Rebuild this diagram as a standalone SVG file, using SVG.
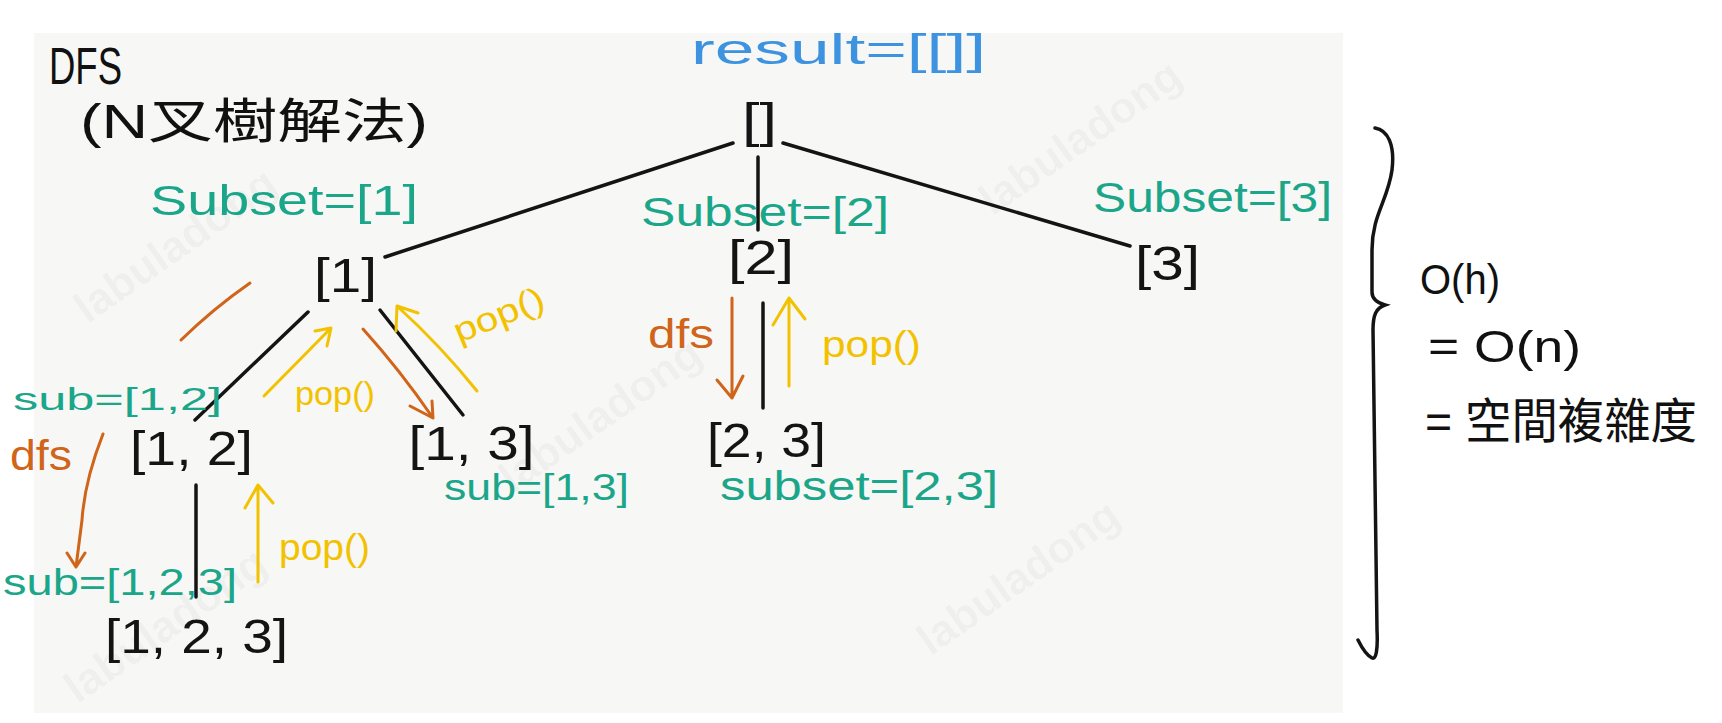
<svg xmlns="http://www.w3.org/2000/svg" width="1722" height="723" viewBox="0 0 1722 723">
<defs>
<style>
.node{font-family:"Liberation Sans",Arial,sans-serif;font-size:49px;fill:#141414;text-anchor:middle}
.edge{stroke:#141414;stroke-width:3.5;fill:none;stroke-linecap:round}
.hand{font-family:"Liberation Sans","Noto Sans CJK TC",sans-serif;}
.green{fill:#1ba68a}
.blue{fill:#3d93e0}
.orange{fill:#d0641a}
.yellow{fill:#f2c200}
.black{fill:#111}
.ostroke{stroke:#d0641a;stroke-width:3;fill:none;stroke-linecap:round;stroke-linejoin:round}
.ystroke{stroke:#f2c200;stroke-width:3;fill:none;stroke-linecap:round;stroke-linejoin:round}
.wm{font-family:"Liberation Sans",Arial,sans-serif;font-weight:bold;font-size:44px;fill:#000;fill-opacity:0.04;text-anchor:middle}
</style>
</defs>
<rect x="0" y="0" width="1722" height="723" fill="#ffffff"/>
<rect x="34" y="33" width="1309" height="680" fill="#f7f7f5"/>
<g id="watermarks">
<text class="wm" x="175" y="260" transform="rotate(-35 175 245)">labuladong</text>
<text class="wm" x="1080" y="152" transform="rotate(-35 1080 137)">labuladong</text>
<text class="wm" x="600" y="430" transform="rotate(-35 600 415)">labuladong</text>
<text class="wm" x="1018" y="592" transform="rotate(-35 1018 577)">labuladong</text>
<text class="wm" x="165" y="640" transform="rotate(-35 165 625)">labuladong</text>
</g>
<g id="connectors">
<path class="edge" d="M733,143 L385,257"/>
<path class="edge" d="M758,157 L758,230"/>
<path class="edge" d="M783,143 L1130,246"/>
<path class="edge" d="M308,312 L195,420"/>
<path class="edge" d="M380,310 L463,415"/>
<path class="edge" d="M196,485 L196,597"/>
<path class="edge" d="M763,303 L763,408"/>
</g>
<g id="dfs-arrows">
<path class="ostroke" d="M250,283 Q214,308 181,340"/>
<path class="ostroke" d="M363,329 Q400,370 433,418 M410,406 L433,418 L432,401"/>
<path class="ostroke" d="M103,434 C92,462 84,490 82,520 L76,567 M67,553 L76,567 L85,553"/>
<path class="ostroke" d="M732,298 L732,398 M717,380 L732,398 L743,376"/>
</g>
<g id="pop-arrows">
<path class="ystroke" d="M264,396 L331,328 M315,331 L331,328 L327,346"/>
<path class="ystroke" d="M477,391 Q440,345 397,306 M418,313 L397,306 L396,331"/>
<path class="ystroke" d="M258,582 L258,485 M245,508 L258,485 L273,503"/>
<path class="ystroke" d="M789,386 L789,298 M773,325 L789,298 L805,319"/>
</g>
<g id="node-root"><text class="node" x="759.5" y="137" textLength="35" lengthAdjust="spacingAndGlyphs">[]</text></g>
<g id="node-1"><text class="node" x="345.5" y="292" textLength="63" lengthAdjust="spacingAndGlyphs">[1]</text></g>
<g id="node-2"><text class="node" x="761" y="274" textLength="66" lengthAdjust="spacingAndGlyphs">[2]</text></g>
<g id="node-3"><text class="node" x="1167.5" y="280" textLength="65" lengthAdjust="spacingAndGlyphs">[3]</text></g>
<g id="node-12"><text class="node" x="191.5" y="465" textLength="123" lengthAdjust="spacingAndGlyphs">[1, 2]</text></g>
<g id="node-13"><text class="node" x="471.5" y="460" textLength="126" lengthAdjust="spacingAndGlyphs">[1, 3]</text></g>
<g id="node-23"><text class="node" x="766.5" y="457" textLength="119" lengthAdjust="spacingAndGlyphs">[2, 3]</text></g>
<g id="node-123"><text class="node" x="196.5" y="653" textLength="183" lengthAdjust="spacingAndGlyphs">[1, 2, 3]</text></g>
<g id="labels">
<text class="hand black" x="49" y="84" font-size="52" textLength="73" lengthAdjust="spacingAndGlyphs">DFS</text>
<text class="hand black" x="80" y="138" font-size="48" textLength="348" lengthAdjust="spacingAndGlyphs">(N叉樹解法)</text>
<text class="hand blue" x="691" y="64" font-size="42" textLength="295" lengthAdjust="spacingAndGlyphs">result=[[]]</text>
<text class="hand green" x="150" y="215" font-size="42" textLength="268" lengthAdjust="spacingAndGlyphs">Subset=[1]</text>
<text class="hand green" x="641" y="226" font-size="40" textLength="248" lengthAdjust="spacingAndGlyphs">Subset=[2]</text>
<text class="hand green" x="1093" y="212" font-size="42" textLength="239" lengthAdjust="spacingAndGlyphs">Subset=[3]</text>
<text class="hand green" x="13" y="410" font-size="32" textLength="209" lengthAdjust="spacingAndGlyphs">sub=[1,2]</text>
<text class="hand green" x="444" y="500" font-size="36" textLength="185" lengthAdjust="spacingAndGlyphs">sub=[1,3]</text>
<text class="hand green" x="3" y="595" font-size="36" textLength="234" lengthAdjust="spacingAndGlyphs">sub=[1,2,3]</text>
<text class="hand green" x="720" y="500" font-size="40" textLength="278" lengthAdjust="spacingAndGlyphs">subset=[2,3]</text>
<text class="hand orange" x="10" y="470" font-size="42" textLength="62" lengthAdjust="spacingAndGlyphs">dfs</text>
<text class="hand orange" x="648" y="348" font-size="40" textLength="66" lengthAdjust="spacingAndGlyphs">dfs</text>
<text class="hand yellow" x="295" y="405" font-size="34" textLength="80" lengthAdjust="spacingAndGlyphs">pop()</text>
<text class="hand yellow" x="500" y="326" font-size="34" text-anchor="middle" textLength="95" lengthAdjust="spacingAndGlyphs" transform="rotate(-22 500 318)">pop()</text>
<text class="hand yellow" x="279" y="560" font-size="36" textLength="91" lengthAdjust="spacingAndGlyphs">pop()</text>
<text class="hand yellow" x="822" y="357" font-size="36" textLength="99" lengthAdjust="spacingAndGlyphs">pop()</text>
</g>
<g id="complexity">
<path class="edge" d="M1375,128 C1388,130 1395,145 1392,170 C1388,200 1372,215 1372,250 L1372,292 C1372,300 1378,303 1385,305 C1376,308 1373,315 1373,330 L1377,630 C1378,650 1376,660 1372,658 C1366,655 1362,648 1358,640"/>
<text class="hand black" x="1420" y="294" font-size="42" textLength="80" lengthAdjust="spacingAndGlyphs">O(h)</text>
<text class="hand black" x="1428" y="362" font-size="44" textLength="153" lengthAdjust="spacingAndGlyphs">= O(n)</text>
<text class="hand black" x="1425" y="438" font-size="48" textLength="272" lengthAdjust="spacingAndGlyphs">= 空間複雜度</text>
</g>
</svg>
